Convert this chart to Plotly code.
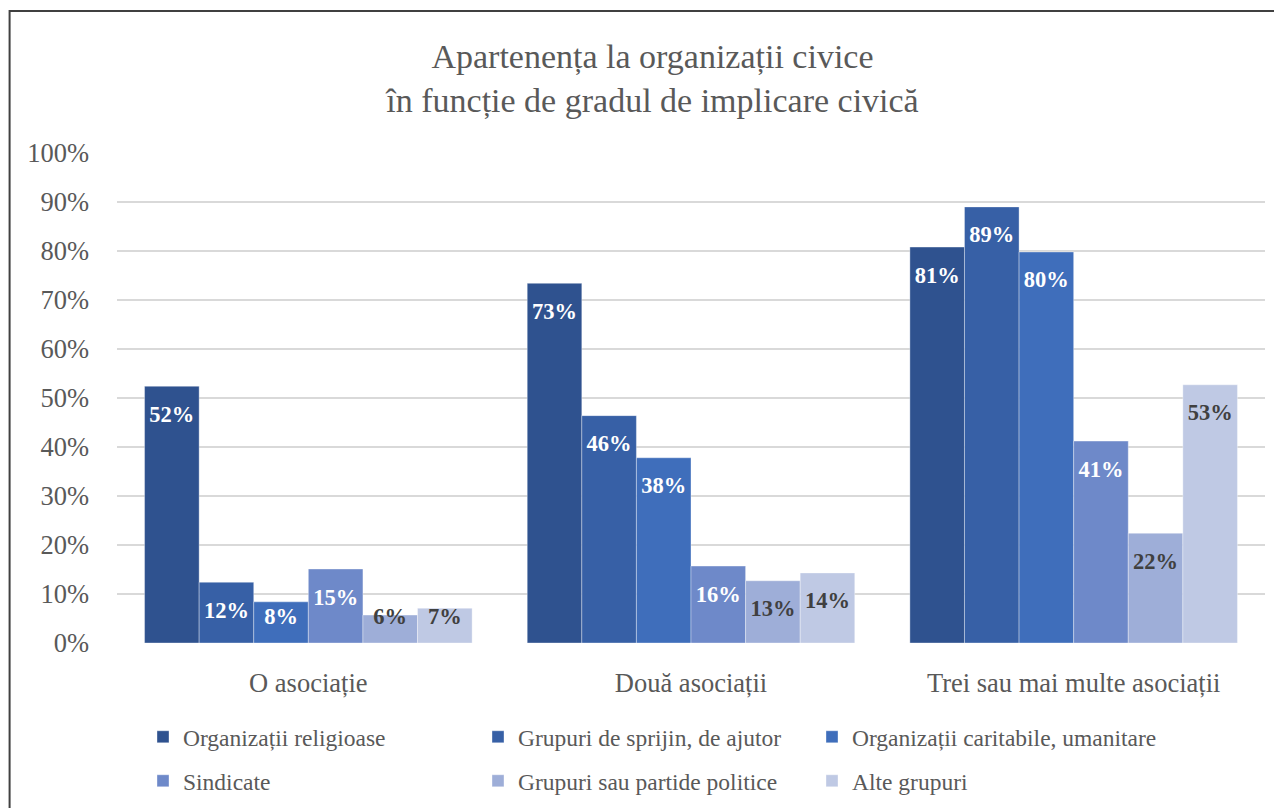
import plotly.graph_objects as go

categories = ["O asociație", "Două asociații", "Trei sau mai multe asociații"]
series_names = [
    "Organizații religioase",
    "Grupuri de sprijin, de ajutor",
    "Organizații caritabile, umanitare",
    "Sindicate",
    "Grupuri sau partide politice",
    "Alte grupuri",
]
religioase = [52.4, 73.4, 80.8]
sprijin = [12.4, 46.4, 89.0]
caritabile = [8.4, 37.8, 79.8]
sindicate = [15.1, 15.7, 41.2]
politice = [5.7, 12.7, 22.4]
alte = [7.1, 14.3, 52.7]
series_values = [religioase, sprijin, caritabile, sindicate, politice, alte]
y_ticks = list(range(0, 101, 10))
y_ticktext = [f"{t}%" for t in y_ticks]

colors = ["#2F528F", "#3760A6", "#3F6EBB", "#6E89C9", "#9EAED8", "#BFC9E4"]
label_colors = ["#FFFFFF", "#FFFFFF", "#FFFFFF", "#FFFFFF", "#404040", "#404040"]
legend_ids = ["legend", "legend", "legend3", "legend2", "legend2", "legend4"]

FONT = "Liberation Serif"
GRAY = "#595959"
# page has an 8px body margin; figure coordinates = page coordinates - 8
OFF = 8
W, H = 1282 - OFF, 808 - OFF
L, T = 116.5 - OFF, 153 - OFF
R = W - (1265.5 - OFF)
B = H - (643 - OFF)
GAP = 0.144

fig = go.Figure()
for j, (name, vals) in enumerate(zip(series_names, series_values)):
    fig.add_trace(go.Bar(
        x=categories, y=vals, name=name,
        marker=dict(color=colors[j], line=dict(color="rgba(255,255,255,0.45)", width=0.8)),
        offsetgroup=str(j),
        legend=legend_ids[j],
        hoverinfo="skip",
    ))
for j, vals in enumerate(series_values):
    fig.add_trace(go.Scatter(
        x=categories,
        y=[max(v - 6.1, 5.1) for v in vals],
        mode="text",
        text=[f"{round(v)}%" for v in vals],
        textposition="middle center",
        textfont=dict(family=FONT, size=22.5, color=label_colors[j], weight="bold"),
        offsetgroup=str(j),
        showlegend=False,
        hoverinfo="skip",
    ))

ph = H - T - B
pw = W - L - R
fig.add_shape(type="rect", xref="paper", yref="paper",
              x0=(9 - OFF - L) / pw, x1=1.3, y0=-0.6, y1=(H - B - (11 - OFF)) / ph,
              line=dict(color="#404040", width=2), fillcolor="rgba(0,0,0,0)", layer="below")

legend_common = dict(
    orientation="h", xref="container", yref="container", xanchor="left", yanchor="middle",
    font=dict(family=FONT, size=23.5, color=GRAY), entrywidth=290, entrywidthmode="pixels",
    bgcolor="rgba(0,0,0,0)", itemclick=False, traceorder="normal",
)
single_common = dict(
    orientation="h", xref="container", yref="container", xanchor="left", yanchor="middle",
    font=dict(family=FONT, size=23.5, color=GRAY),
    bgcolor="rgba(0,0,0,0)", itemclick=False,
)
row1 = 1 - (737 - OFF) / H
row2 = 1 - (781 - OFF) / H
col1 = (143 - OFF) / W
col3 = (812 - OFF) / W

fig.update_layout(
    width=W, height=H,
    margin=dict(l=L, r=R, t=T, b=B, pad=0),
    paper_bgcolor="white", plot_bgcolor="white",
    barmode="group", bargap=GAP, bargroupgap=0,
    scattermode="group", scattergap=GAP,
    title=dict(
        text="Apartenența la organizații civice<br>în funcție de gradul de implicare civică",
        font=dict(family=FONT, size=34, color=GRAY),
        xref="container", yref="container", x=(652.5 - OFF) / W, xanchor="center",
        y=1 - (68 - OFF) / H, yanchor="middle",
    ),
    xaxis=dict(
        tickfont=dict(family=FONT, size=26.5, color=GRAY), showgrid=False,
        showline=False, ticks="", ticklabelstandoff=21,
    ),
    yaxis=dict(
        range=[0, 100], tickvals=y_ticks, ticktext=y_ticktext,
        tickfont=dict(family=FONT, size=26.5, color=GRAY),
        showgrid=True, gridcolor="#D9D9D9", gridwidth=2, zeroline=False,
        showline=False, ticks="", ticklabelstandoff=27,
    ),
    legend=dict(x=col1, y=row1, **legend_common),
    legend2=dict(x=col1, y=row2, **legend_common),
    legend3=dict(x=col3, y=row1, **single_common),
    legend4=dict(x=col3, y=row2, **single_common),
    showlegend=True,
)

fig.write_html("out.html")
